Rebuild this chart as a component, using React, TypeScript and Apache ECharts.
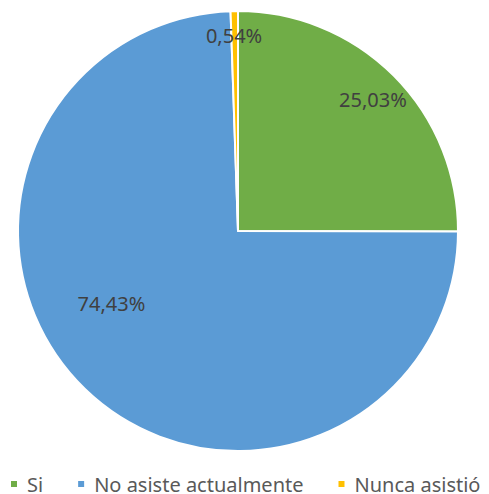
import React, { useEffect, useRef } from "react";
import * as echarts from "echarts";

const categories = ["Si", "No asiste actualmente", "Nunca asistió"];
const values = [25.03, 74.43, 0.54];
const colors = ["#70AD47", "#5B9BD5", "#FFC000"];
// label nudges (px) to mimic spreadsheet label placement
const labelOffsets = [
  [55, -52],
  [-48, -9],
  [-2, -83],
];

export default function App() {
  const ref = useRef<HTMLDivElement>(null);
  useEffect(() => {
    if (!ref.current) return;
    const chart = echarts.init(ref.current, undefined, { renderer: "svg" });
    chart.setOption({
      animation: false,
      color: colors,
      legend: {
        data: categories,
        left: 1,
        top: 466,
        padding: 0,
        itemWidth: 8,
        itemHeight: 8,
        itemGap: 33,
        icon: "rect",
        selectedMode: false,
        textStyle: {
          fontFamily: "Noto Sans",
          fontSize: 20,
          color: "#595959",
          padding: [0, 0, 0, 4],
        },
      },
      series: [
        {
          type: "pie",
          center: [230, 223],
          radius: 220,
          startAngle: 90,
          clockwise: true,
          silent: true,
          itemStyle: { borderColor: "#ffffff", borderWidth: 2 },
          label: {
            show: true,
            position: "inside",
            fontFamily: "Noto Sans",
            fontSize: 20,
            color: "#404040",
            formatter: (p: any) => p.value.toFixed(2).replace(".", ",") + "%",
          },
          labelLine: { show: false },
          labelLayout: (p: any) => ({
            dx: labelOffsets[p.dataIndex][0],
            dy: labelOffsets[p.dataIndex][1],
          }),
          data: categories.map((c, i) => ({ name: c, value: values[i] })),
        },
      ],
    });
    return () => chart.dispose();
  }, []);
  return <div ref={ref} style={{ width: 481, height: 486 }} />;
}
